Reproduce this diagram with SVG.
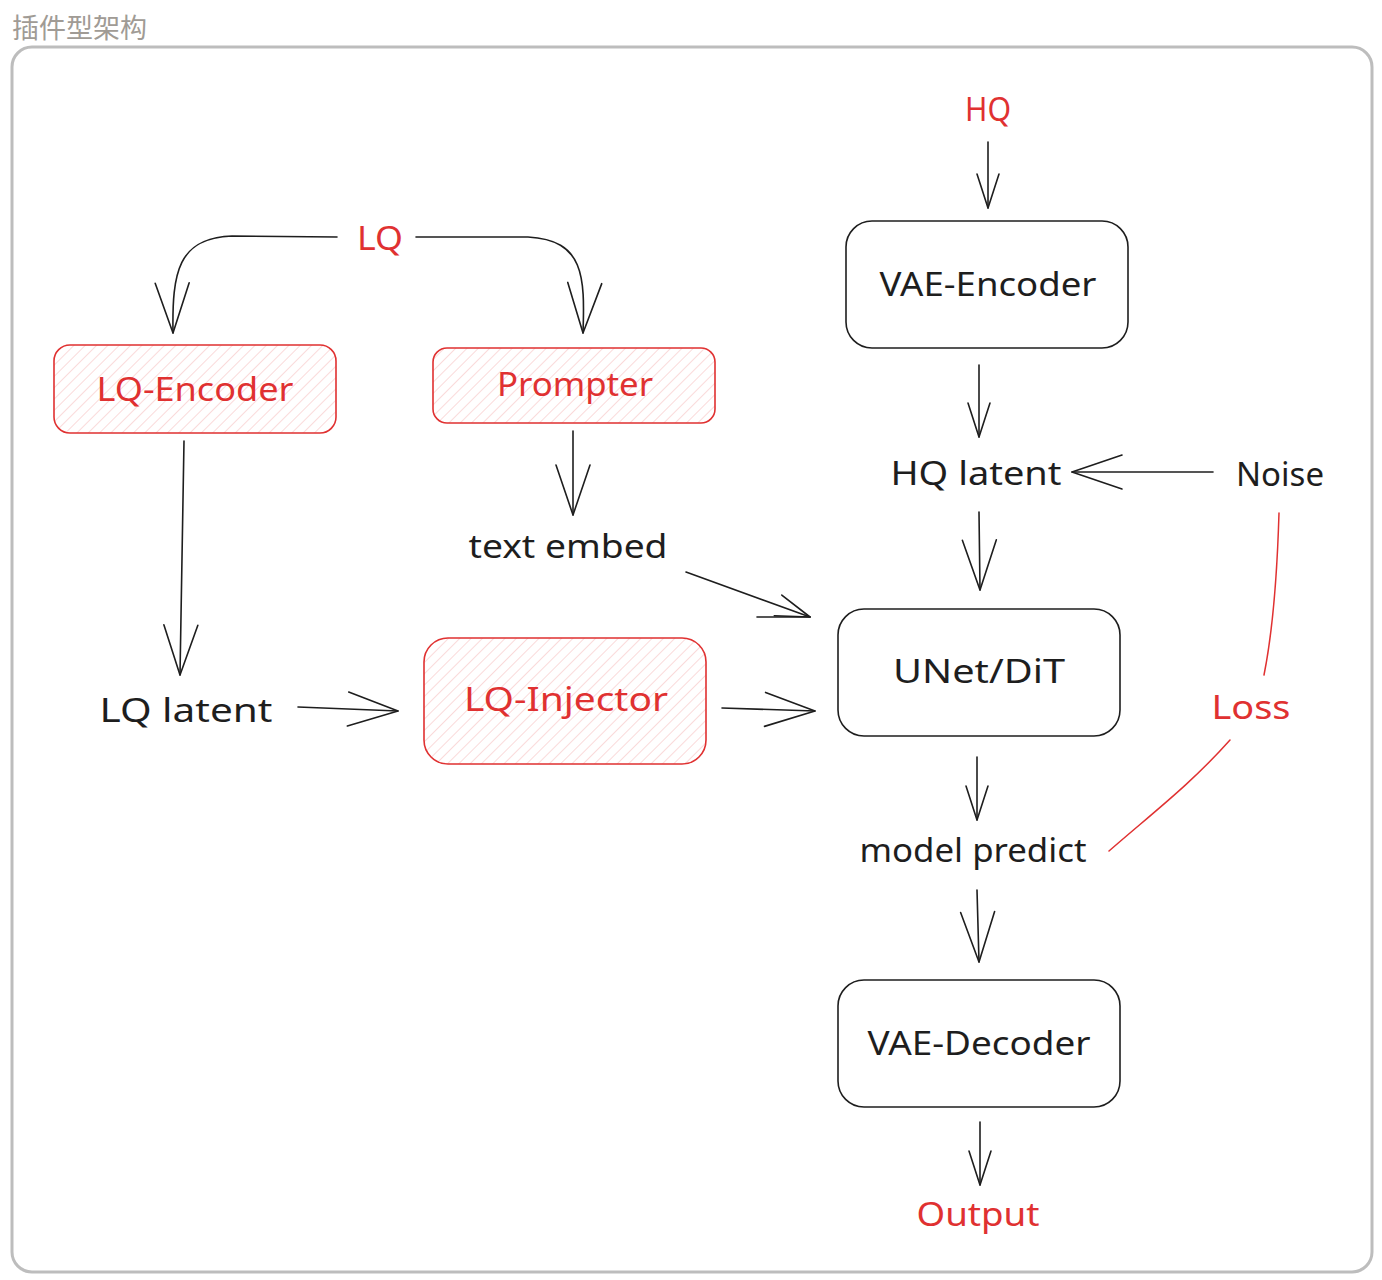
<svg xmlns="http://www.w3.org/2000/svg" width="1382" height="1280" viewBox="0 0 1382 1280">
<style>
.t{font-family:"Noto Sans","Open Sans","DejaVu Sans",sans-serif;font-size:32px;text-anchor:middle;fill:#1e1e1e}
.r{fill:#e03131}
.title{font-family:"Noto Sans CJK SC","Noto Sans",sans-serif;font-size:27px;fill:#a09b95}
.box{fill:#fff;stroke:#1e1e1e;stroke-width:1.6}
.rbox{fill:url(#hatch);stroke:#e03131;stroke-width:1.6}
.c{fill:none;stroke:#1e1e1e;stroke-width:1.6;stroke-linecap:round}
.rc{fill:none;stroke:#e03131;stroke-width:1.5;stroke-linecap:round}
</style>
<defs>
<pattern id="hatch" patternUnits="userSpaceOnUse" width="8" height="8" patternTransform="rotate(45)">
<rect width="8" height="8" fill="#fff"/>
<line x1="0" y1="0" x2="0" y2="8" stroke="#f7c1c1" stroke-width="1.2"/>
</pattern>
<marker id="a" markerUnits="userSpaceOnUse" markerWidth="60" markerHeight="40" orient="auto" overflow="visible">
<path d="M-34,-11 L0,0 L-34,11" fill="none" stroke="#1e1e1e" stroke-width="1.6" stroke-linecap="round" stroke-linejoin="round"/>
</marker>
<marker id="b" markerUnits="userSpaceOnUse" markerWidth="60" markerHeight="40" orient="auto" overflow="visible">
<path d="M-50,-17 L0,0 L-50,17" fill="none" stroke="#1e1e1e" stroke-width="1.6" stroke-linecap="round" stroke-linejoin="round"/>
</marker>
</defs>
<rect width="1382" height="1280" fill="#fff"/>
<text class="title" x="12" y="38">插件型架构</text>
<rect x="12" y="47" width="1360" height="1225" rx="20" fill="none" stroke="#bdbdbd" stroke-width="3"/>

<g id="connectors">
<path class="c" d="M988,142 L988,208" marker-end="url(#a)"/>
<path class="c" d="M337,237 L232,236 C178,238 172,272 173,333" marker-end="url(#b)"/>
<path class="c" d="M416,237 L528,237 C584,240 585,276 583,333" marker-end="url(#b)"/>
<path class="c" d="M184,441 L180,675" marker-end="url(#b)"/>
<path class="c" d="M573,431 L573,515" marker-end="url(#b)"/>
<path class="c" d="M686,572 L810,617" marker-end="url(#a)"/>
<path class="c" d="M757,617 L810,617"/>
<path class="c" d="M298,707 L398,711" marker-end="url(#b)"/>
<path class="c" d="M722,708 L815,711" marker-end="url(#b)"/>
<path class="c" d="M979,365 L979,437" marker-end="url(#a)"/>
<path class="c" d="M1213,472 L1072,472" marker-end="url(#b)"/>
<path class="c" d="M979,512 L980,590" marker-end="url(#b)"/>
<path class="c" d="M977,757 L977,820" marker-end="url(#a)"/>
<path class="c" d="M977,890 L979,962" marker-end="url(#b)"/>
<path class="c" d="M980,1122 L980,1185" marker-end="url(#a)"/>
<path class="rc" d="M1279,513 C1277,580 1273,630 1264,675"/>
<path class="rc" d="M1230,740 C1190,785 1150,815 1109,851"/>
</g>

<g id="lq-encoder"><rect class="rbox" x="54" y="345" width="282" height="88" rx="16"/><text class="t r" x="195" y="401" textLength="197" lengthAdjust="spacingAndGlyphs">LQ-Encoder</text></g>
<g id="prompter"><rect class="rbox" x="433" y="348" width="282" height="75" rx="14"/><text class="t r" x="575" y="396" textLength="156" lengthAdjust="spacingAndGlyphs">Prompter</text></g>
<g id="lq-injector"><rect class="rbox" x="424" y="638" width="282" height="126" rx="24"/><text class="t r" x="566" y="711" textLength="204" lengthAdjust="spacingAndGlyphs">LQ-Injector</text></g>
<g id="vae-encoder"><rect class="box" x="846" y="221" width="282" height="127" rx="26"/><text class="t" x="988" y="296" textLength="217" lengthAdjust="spacingAndGlyphs">VAE-Encoder</text></g>
<g id="unet"><rect class="box" x="838" y="609" width="282" height="127" rx="26"/><text class="t" x="979" y="683" textLength="172" lengthAdjust="spacingAndGlyphs">UNet/DiT</text></g>
<g id="vae-decoder"><rect class="box" x="838" y="980" width="282" height="127" rx="26"/><text class="t" x="979" y="1055" textLength="223" lengthAdjust="spacingAndGlyphs">VAE-Decoder</text></g>

<g id="hq"><text class="t r" x="988" y="121" textLength="46" lengthAdjust="spacingAndGlyphs">HQ</text></g>
<g id="lq"><text class="t r" x="380" y="250" textLength="46" lengthAdjust="spacingAndGlyphs">LQ</text></g>
<g id="hq-latent"><text class="t" x="976" y="485" textLength="171" lengthAdjust="spacingAndGlyphs">HQ latent</text></g>
<g id="noise"><text class="t" x="1280" y="486" textLength="88" lengthAdjust="spacingAndGlyphs">Noise</text></g>
<g id="text-embed"><text class="t" x="568" y="558" textLength="199" lengthAdjust="spacingAndGlyphs">text embed</text></g>
<g id="lq-latent"><text class="t" x="186" y="722" textLength="173" lengthAdjust="spacingAndGlyphs">LQ latent</text></g>
<g id="loss"><text class="t r" x="1251" y="719" textLength="79" lengthAdjust="spacingAndGlyphs">Loss</text></g>
<g id="model-predict"><text class="t" x="973" y="862" textLength="227" lengthAdjust="spacingAndGlyphs">model predict</text></g>
<g id="output"><text class="t r" x="978" y="1226" textLength="123" lengthAdjust="spacingAndGlyphs">Output</text></g>
</svg>
